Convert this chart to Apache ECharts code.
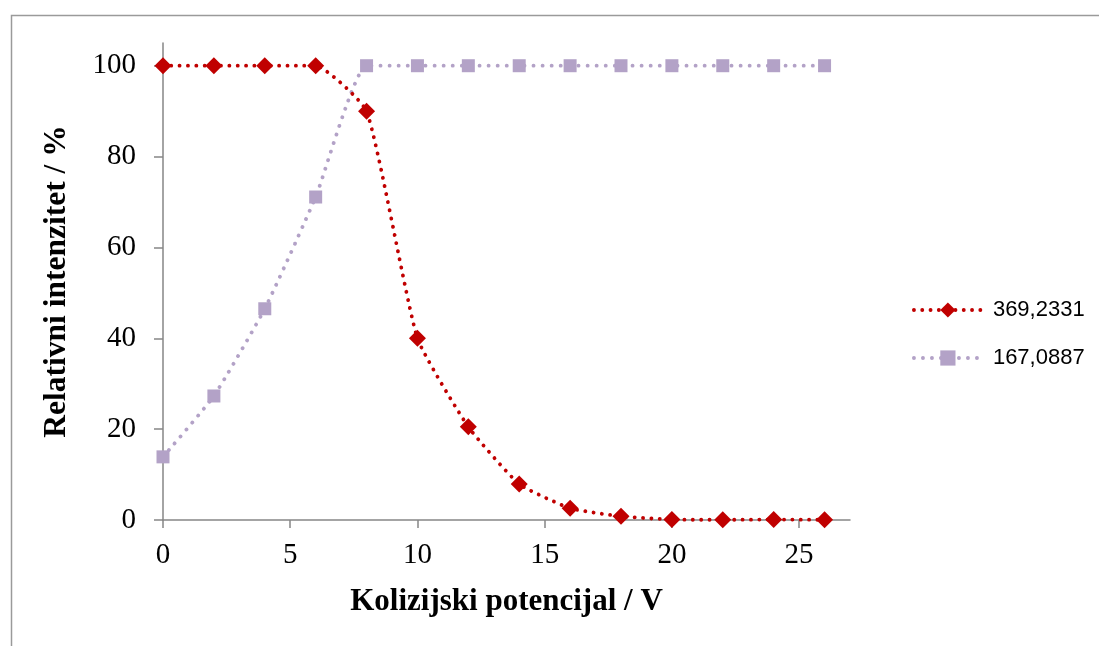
<!DOCTYPE html>
<html>
<head>
<meta charset="utf-8">
<script src="https://cdn.jsdelivr.net/npm/echarts@6/dist/echarts.min.js"></script>
<style>
html,body{margin:0;padding:0;background:#fff;}
#chart{width:1099px;height:646px;}
</style>
</head>
<body>
<div id="chart"></div>
<script>
// Data
const xValues = [0, 2, 4, 6, 8, 10, 12, 14, 16, 18, 20, 22, 24, 26];
const series369 = [100, 100, 100, 100, 90, 40, 20.5, 7.9, 2.6, 0.8, 0.1, 0.05, 0.1, 0.05];
const series167 = [13.9, 27.3, 46.5, 71.1, 100, 100, 100, 100, 100, 100, 100, 100, 100, 100];
const seriesNames = ['369,2331', '167,0887'];
const xTicks = [0, 5, 10, 15, 20, 25];
const yTicks = [0, 20, 40, 60, 80, 100];
const xTitle = 'Kolizijski potencijal / V';
const yTitle = 'Relativni intenzitet / %';

const pairs = (ys) => xValues.map((x, i) => [x, ys[i]]);

const axisGray = '#868686';
const serif = '"Liberation Serif", "Times New Roman", serif';

const chart = echarts.init(document.getElementById('chart'));
chart.setOption({
  animation: false,
  backgroundColor: '#fff',
  graphic: [{
    type: 'rect',
    left: 9, top: 13,
    shape: { width: 1300, height: 800 },
    style: { fill: 'none', stroke: '#9a9a9a', lineWidth: 1.5 },
    silent: true
  }],
  grid: { left: 163, right: 249, top: 43, bottom: 126 },
  legend: {
    orient: 'vertical',
    left: 907,
    top: 294,
    itemWidth: 68,
    itemHeight: 19,
    itemGap: 26,
    lineStyle: { width: 3.8, cap: 'round' },
    textStyle: { fontFamily: '"Liberation Sans", Arial, sans-serif', fontSize: 22, color: '#000', padding: [0, 0, 0, 6] },
    data: seriesNames
  },
  xAxis: {
    type: 'value',
    min: 0, max: 27,
    name: xTitle,
    nameLocation: 'middle',
    nameGap: 66,
    nameTextStyle: { fontFamily: serif, fontWeight: 'bold', fontSize: 31, color: '#000' },
    axisLine: { show: true, lineStyle: { color: axisGray, width: 1.5 } },
    axisTick: { show: true, length: 8, lineStyle: { color: axisGray, width: 1.5 }, customValues: xTicks },
    axisLabel: { fontFamily: serif, fontSize: 29, color: '#000', margin: 21, customValues: xTicks },
    splitLine: { show: false }
  },
  yAxis: {
    type: 'value',
    min: 0, max: 105,
    name: yTitle,
    nameLocation: 'middle',
    nameGap: 90,
    nameTextStyle: { fontFamily: serif, fontWeight: 'bold', fontSize: 31.5, color: '#000' },
    axisLine: { show: true, lineStyle: { color: axisGray, width: 1.5 } },
    axisTick: { show: true, length: 9, lineStyle: { color: axisGray, width: 1.5 }, customValues: yTicks },
    axisLabel: { fontFamily: serif, fontSize: 29, color: '#000', margin: 27, customValues: yTicks },
    splitLine: { show: false }
  },
  series: [
    {
      name: seriesNames[0],
      type: 'line',
      data: pairs(series369),
      smooth: 0.15,
      symbol: 'diamond',
      symbolSize: 17,
      z: 3,
      itemStyle: { color: '#C00000' },
      lineStyle: { color: '#C00000', width: 3.8, type: [0.1, 8.2], cap: 'round' }
    },
    {
      name: seriesNames[1],
      type: 'line',
      data: pairs(series167),
      smooth: 0.15,
      symbol: 'rect',
      symbolSize: 13,
      z: 2,
      itemStyle: { color: '#B3A2C7' },
      lineStyle: { color: '#B3A2C7', width: 3.8, type: [0.1, 8.9], cap: 'round' }
    }
  ]
});
</script>
</body>
</html>
